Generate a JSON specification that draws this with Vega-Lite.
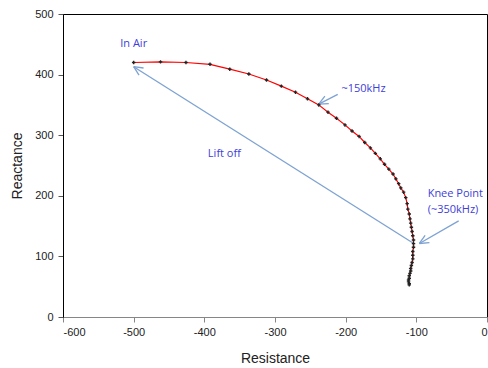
{
  "$schema": "https://vega.github.io/schema/vega-lite/v6.json",
  "width": 424,
  "height": 303,
  "autosize": {"type": "none"},
  "padding": {"left": 63, "top": 14, "right": 1, "bottom": 51},
  "background": "white",
  "config": {
    "view": {"stroke": "#000000", "strokeWidth": 1},
    "font": "Liberation Sans"
  },
  "datasets": {
    "curve": [
      {"i": 1, "r": -500, "x": 420},
      {"i": 2, "r": -462, "x": 421},
      {"i": 3, "r": -426, "x": 420},
      {"i": 4, "r": -392, "x": 417},
      {"i": 5, "r": -364, "x": 409},
      {"i": 6, "r": -337, "x": 401},
      {"i": 7, "r": -312, "x": 391},
      {"i": 8, "r": -291, "x": 381},
      {"i": 9, "r": -271, "x": 371},
      {"i": 10, "r": -254, "x": 360},
      {"i": 11, "r": -238, "x": 350},
      {"i": 12, "r": -225, "x": 338},
      {"i": 13, "r": -213, "x": 328},
      {"i": 14, "r": -201, "x": 317},
      {"i": 15, "r": -191, "x": 307},
      {"i": 16, "r": -181, "x": 298},
      {"i": 17, "r": -173, "x": 288},
      {"i": 18, "r": -165, "x": 279},
      {"i": 19, "r": -158, "x": 270},
      {"i": 20, "r": -151, "x": 261},
      {"i": 21, "r": -145, "x": 252},
      {"i": 22, "r": -139, "x": 244},
      {"i": 23, "r": -133, "x": 236},
      {"i": 24, "r": -129, "x": 228},
      {"i": 25, "r": -125, "x": 220},
      {"i": 26, "r": -122, "x": 213},
      {"i": 27, "r": -118, "x": 206},
      {"i": 28, "r": -115, "x": 197},
      {"i": 29, "r": -113, "x": 187},
      {"i": 30, "r": -112, "x": 178},
      {"i": 31, "r": -110, "x": 170},
      {"i": 32, "r": -109, "x": 162},
      {"i": 33, "r": -108, "x": 155},
      {"i": 34, "r": -107, "x": 148},
      {"i": 35, "r": -106, "x": 141},
      {"i": 36, "r": -105, "x": 134},
      {"i": 37, "r": -104, "x": 127},
      {"i": 38, "r": -104, "x": 121},
      {"i": 39, "r": -104, "x": 115},
      {"i": 40, "r": -105, "x": 108},
      {"i": 41, "r": -105, "x": 102},
      {"i": 42, "r": -105, "x": 96},
      {"i": 43, "r": -106, "x": 90},
      {"i": 44, "r": -107, "x": 85},
      {"i": 45, "r": -108, "x": 80},
      {"i": 46, "r": -108, "x": 76},
      {"i": 47, "r": -109, "x": 72},
      {"i": 48, "r": -110, "x": 68},
      {"i": 49, "r": -110, "x": 64},
      {"i": 50, "r": -111, "x": 61},
      {"i": 51, "r": -111, "x": 58},
      {"i": 52, "r": -110, "x": 55},
      {"i": 53, "r": -110, "x": 53}
    ],
    "arrows": [
      {"x1": -104.2, "y1": 121.8, "x2": -500, "y2": 413},
      {"x1": -500, "y1": 413, "x2": -492.4, "y2": 399.2},
      {"x1": -500, "y1": 413, "x2": -486, "y2": 410.9},
      {"x1": -40.1, "y1": 158.6, "x2": -95.7, "y2": 121.3},
      {"x1": -95.7, "y1": 121.3, "x2": -81.5, "y2": 122.6},
      {"x1": -95.7, "y1": 121.3, "x2": -87.6, "y2": 134.8},
      {"x1": -211.2, "y1": 367.4, "x2": -238.1, "y2": 351.4},
      {"x1": -238.1, "y1": 351.4, "x2": -223.9, "y2": 352},
      {"x1": -238.1, "y1": 351.4, "x2": -229.4, "y2": 364.4}
    ],
    "labels": [
      {"label": "In Air", "lx": -519, "ly": 450},
      {"label": "~150kHz", "lx": -206, "ly": 376},
      {"label": "Lift off", "lx": -395, "ly": 269},
      {"label": "Knee Point", "lx": -84, "ly": 203},
      {"label": "(~350kHz)", "lx": -84, "ly": 177}
    ]
  },
  "layer": [
    {
      "data": {"name": "arrows"},
      "mark": {"type": "rule", "color": "#7da2d2", "strokeWidth": 1.3},
      "encoding": {
        "x": {"field": "x1", "type": "quantitative", "scale": {"domain": [-600, 0], "nice": false, "zero": false},
          "axis": {"title": "Resistance", "values": [-600, -500, -400, -300, -200, -100, 0], "grid": false,
            "labelExpr": "'' + datum.value",
            "domainColor": "#868686", "tickColor": "#868686", "tickSize": 5, "labelFontSize": 11, "labelColor": "#222222",
            "labelPadding": 4, "titleFontSize": 14, "titleFontWeight": "normal", "titleColor": "#222222", "titlePadding": 14,
            "labelFont": "Liberation Sans", "titleFont": "Liberation Sans"}},
        "y": {"field": "y1", "type": "quantitative", "scale": {"domain": [0, 500], "nice": false, "zero": false},
          "axis": {"title": "Reactance", "values": [0, 100, 200, 300, 400, 500], "grid": false,
            "domainColor": "#000000", "tickColor": "#555555", "tickSize": 5, "labelFontSize": 11, "labelColor": "#222222",
            "labelPadding": 5, "titleFontSize": 14, "titleFontWeight": "normal", "titleColor": "#222222", "titlePadding": 10,
            "labelFont": "Liberation Sans", "titleFont": "Liberation Sans"}},
        "x2": {"field": "x2"},
        "y2": {"field": "y2"}
      }
    },
    {
      "data": {"name": "curve"},
      "mark": {"type": "line", "color": "#ff0000", "strokeWidth": 1.2},
      "encoding": {
        "x": {"field": "r", "type": "quantitative"},
        "y": {"field": "x", "type": "quantitative"},
        "order": {"field": "i", "type": "quantitative"}
      }
    },
    {
      "data": {"name": "curve"},
      "mark": {"type": "point", "shape": "cross", "filled": true, "size": 12, "color": "#222222", "opacity": 1},
      "encoding": {
        "x": {"field": "r", "type": "quantitative"},
        "y": {"field": "x", "type": "quantitative"}
      }
    },
    {
      "data": {"name": "labels"},
      "mark": {"type": "text", "align": "left", "baseline": "middle", "font": "Open Sans", "fontSize": 11, "color": "#4040d8"},
      "encoding": {
        "x": {"field": "lx", "type": "quantitative"},
        "y": {"field": "ly", "type": "quantitative"},
        "text": {"field": "label"}
      }
    }
  ]
}
